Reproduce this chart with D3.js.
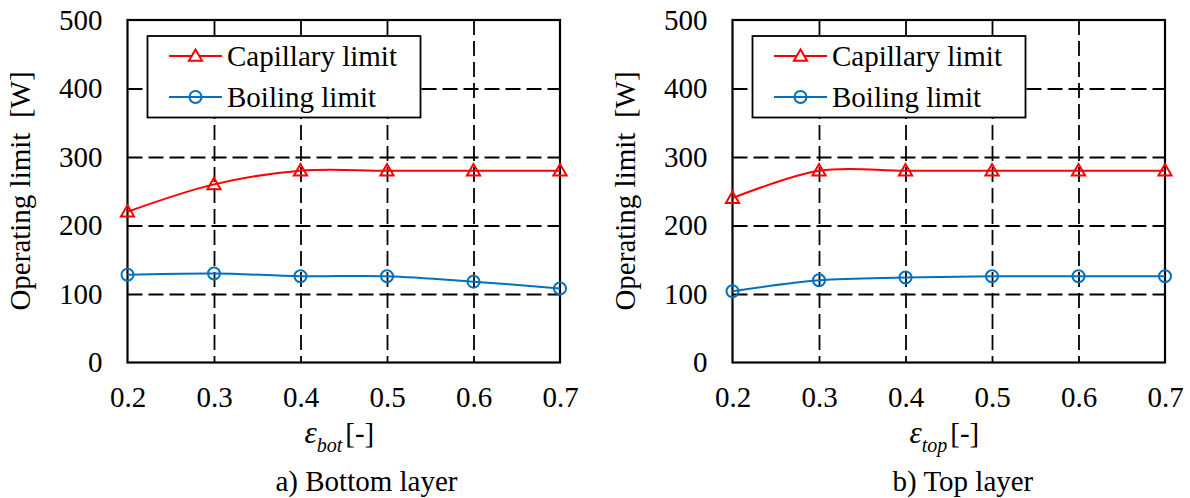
<!DOCTYPE html>
<html>
<head>
<meta charset="utf-8">
<script src="https://cdn.jsdelivr.net/npm/d3@7"></script>
<style>html,body{margin:0;background:#fff}</style>
</head>
<body>
<svg id="chart" width="1190" height="498"></svg>
<script>
// ---- Data ----
const xValues = [0.2, 0.3, 0.4, 0.5, 0.6, 0.7];
const xTicks = [0.2, 0.3, 0.4, 0.5, 0.6, 0.7];
const yTicks = [0, 100, 200, 300, 400, 500];
const seriesNames = ["Capillary limit", "Boiling limit"];
const bottomCapillary = [220, 260, 280, 280, 280, 280];
const bottomBoiling = [128, 130, 126, 126, 118, 108];
const topCapillary = [240, 280, 280, 280, 280, 280];
const topBoiling = [104, 120, 124, 126, 126, 126];
const xSubscripts = ["bot", "top"];
const captions = ["a) Bottom layer", "b) Top layer"];

// ---- Layout ----
const FONT = '"Liberation Serif", "Times New Roman", Tinos, serif';
const svg = d3.select("#chart").style("font-family", FONT, "important");
const panels = [
  { left: 127.5, sub: xSubscripts[0], caption: captions[0], capX: 148, cap: bottomCapillary, boil: bottomBoiling },
  { left: 732.5, sub: xSubscripts[1], caption: captions[1], capX: 160, cap: topCapillary, boil: topBoiling }
];
const W = 432.5, plotTop = 20, plotBottom = 362.5;
const colors = ["#ff0000", "#0070c0"];
const FS = 29;

function serif(sel, size) {
  return sel.attr("font-size", size).attr("font-family", "Liberation Serif")
    .style("font-family", FONT, "important").style("font-size", size + "px", "important");
}

panels.forEach(p => {
  const g = svg.append("g").attr("transform", `translate(${p.left},0)`);
  const x = d3.scaleLinear().domain([0.2, 0.7]).range([0, W]);
  const y = d3.scaleLinear().domain([0, 500]).range([plotBottom, plotTop]);

  // gridlines
  const gridY = g.append("g").call(d3.axisLeft(y).tickValues([100, 200, 300, 400]).tickSize(-W).tickFormat(""));
  gridY.select(".domain").remove();
  gridY.selectAll("line").attr("stroke", "#000").attr("stroke-width", 1.8).attr("stroke-dasharray", "15,6");
  const gridX = g.append("g").attr("transform", `translate(0,${plotTop})`)
    .call(d3.axisTop(x).tickValues([0.3, 0.4, 0.5, 0.6]).tickSize(-(plotBottom - plotTop)).tickFormat(""));
  gridX.select(".domain").remove();
  gridX.selectAll("line").attr("stroke", "#000").attr("stroke-width", 1.8).attr("stroke-dasharray", "15,6");

  // frame
  g.append("rect").attr("x", 0).attr("y", plotTop).attr("width", W).attr("height", plotBottom - plotTop)
    .attr("fill", "none").attr("stroke", "#000").attr("stroke-width", 2.2);

  // tick labels
  const ay = g.append("g").call(d3.axisLeft(y).tickValues(yTicks).tickSize(0).tickPadding(25));
  ay.select(".domain").remove();
  serif(ay, FS);
  serif(ay.selectAll("text"), FS).attr("fill", "#000");
  const ax = g.append("g").attr("transform", `translate(0,${plotBottom})`)
    .call(d3.axisBottom(x).tickValues(xTicks).tickSize(0).tickPadding(24).tickFormat(d3.format(".1f")));
  ax.select(".domain").remove();
  serif(ax, FS);
  serif(ax.selectAll("text"), FS).attr("fill", "#000");

  // y title
  serif(g.append("text"), FS)
    .attr("transform", `translate(${30 - 127.5},${191}) rotate(-90)`)
    .attr("text-anchor", "middle")
    .style("white-space", "pre")
    .text("Operating limit  [W]");

  // x title
  const xt = serif(g.append("text"), FS).attr("x", 177).attr("y", 443);
  serif(xt.append("tspan"), 31).style("font-style", "italic").text("ε");
  serif(xt.append("tspan"), 20).style("font-style", "italic").attr("dy", 9).text(p.sub);
  serif(xt.append("tspan"), FS).attr("dy", -9).attr("dx", 3).text("[-]");

  // caption
  serif(g.append("text"), FS).attr("x", p.capX).attr("y", 491).text(p.caption);

  // lines
  const line = d3.line().x((d, i) => x(xValues[i])).y(d => y(d)).curve(d3.curveCatmullRom.alpha(0.5));
  [p.cap, p.boil].forEach((vals, si) => {
    g.append("path").datum(vals).attr("d", line).attr("fill", "none")
      .attr("stroke", colors[si]).attr("stroke-width", 2);
  });
  // markers
  const tri = d3.symbol().type(d3.symbolTriangle).size(75);
  g.selectAll(".tri").data(p.cap).join("path")
    .attr("transform", (d, i) => `translate(${x(xValues[i])},${y(d) + 1})`)
    .attr("d", tri).attr("fill", "none").attr("stroke", colors[0]).attr("stroke-width", 2);
  g.selectAll(".circ").data(p.boil).join("circle")
    .attr("cx", (d, i) => x(xValues[i])).attr("cy", d => y(d)).attr("r", 6)
    .attr("fill", "none").attr("stroke", colors[1]).attr("stroke-width", 2);

  // legend
  const lg = g.append("g").attr("transform", "translate(20,0)");
  lg.append("rect").attr("x", 0).attr("y", 36).attr("width", 273).attr("height", 81.5)
    .attr("fill", "#fff").attr("stroke", "#000").attr("stroke-width", 1.8);
  const rowsY = [56, 97];
  seriesNames.forEach((name, si) => {
    const ly = rowsY[si];
    lg.append("line").attr("x1", 21.5).attr("x2", 74.5).attr("y1", ly).attr("y2", ly)
      .attr("stroke", colors[si]).attr("stroke-width", 2);
    if (si === 0) {
      lg.append("path").attr("transform", `translate(48,${ly + 1})`).attr("d", tri)
        .attr("fill", "#fff").attr("stroke", colors[0]).attr("stroke-width", 2);
    } else {
      lg.append("circle").attr("cx", 48).attr("cy", ly).attr("r", 6)
        .attr("fill", "none").attr("stroke", colors[1]).attr("stroke-width", 2);
    }
    serif(lg.append("text"), FS).attr("x", 79.5).attr("y", ly + 9.5).text(name);
  });
});
</script>
</body>
</html>
